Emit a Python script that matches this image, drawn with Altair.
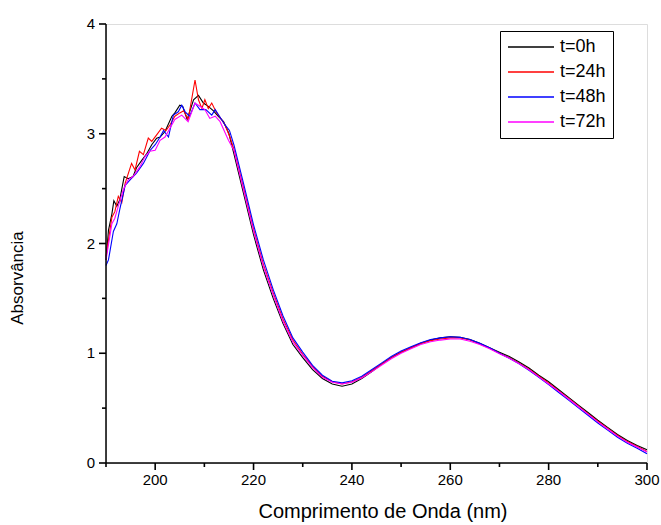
import altair as alt
import pandas as pd

series = ["t=0h", "t=24h", "t=48h", "t=72h"]
colors = ["#000000", "#ff0000", "#0000ff", "#ff00ff"]

# noisy short-wavelength part (read per series)
wl_0h_a = [190, 190.5, 191.2, 191.6, 192.2, 192.8, 193.7, 194.5, 195.5, 196.2, 197.3, 198.3, 199.3, 200.3,
           201, 202, 203.4, 204, 205, 205.6, 206.5, 207.8, 208.8, 209.8, 210.8, 211.8, 212.8, 213.9, 215]
ab_0h_a = [1.85, 2.12, 2.27, 2.39, 2.34, 2.40, 2.61, 2.59, 2.61, 2.69, 2.76, 2.82, 2.90, 2.96,
           2.97, 3.02, 3.16, 3.19, 3.26, 3.25, 3.13, 3.31, 3.35, 3.28, 3.25, 3.21, 3.16, 3.11, 3.00]

wl_24h_a = [190, 191.2, 191.8, 192.5, 193.2, 193.9, 195.2, 195.9, 196.8, 197.6, 198.6, 199.3, 200.3, 201.3,
            202.2, 203, 204, 205, 205.8, 206.7, 208.1, 208.8, 209.5, 210.1, 210.8, 211.5, 212.5, 213.5, 214.2, 215.2]
ab_24h_a = [1.88, 2.24, 2.29, 2.43, 2.37, 2.55, 2.73, 2.67, 2.84, 2.81, 2.96, 2.93, 2.99, 3.05,
            3.03, 3.08, 3.16, 3.19, 3.21, 3.13, 3.49, 3.31, 3.23, 3.31, 3.23, 3.28, 3.19, 3.13, 3.08, 2.97]

wl_48h_a = [190, 190.5, 191.5, 192.2, 192.8, 193.9, 194.9, 196.2, 197.6, 199, 200, 201, 201.7, 202.7,
            203.7, 204.7, 205.4, 206.1, 207, 208.1, 209.1, 210.3, 211.5, 212.2, 213.2, 214.2, 215.1]
ab_48h_a = [1.80, 1.85, 2.11, 2.18, 2.31, 2.53, 2.58, 2.64, 2.73, 2.85, 2.90, 2.97, 3.03, 2.97,
            3.17, 3.20, 3.26, 3.20, 3.16, 3.28, 3.22, 3.22, 3.17, 3.22, 3.15, 3.08, 3.03]

wl_72h_a = [190, 191.2, 191.8, 192.5, 193.5, 194.5, 195.5, 196.9, 197.9, 198.9, 200, 201, 202, 203,
            204, 205.4, 206.7, 208.1, 209.1, 210.1, 211.1, 212.2, 213.2, 214.9]
ab_72h_a = [1.85, 2.18, 2.23, 2.34, 2.49, 2.58, 2.61, 2.70, 2.79, 2.84, 2.85, 2.94, 2.97, 3.05,
            3.13, 3.17, 3.11, 3.28, 3.25, 3.22, 3.14, 3.16, 3.11, 2.94]

# smooth long-wavelength part
wl_b = [216, 218, 220, 222, 224, 226, 228, 230, 232, 234, 236, 238, 240, 242, 244, 246, 248, 250,
        252, 254, 256, 258, 260, 262, 264, 266, 268, 270, 272, 274, 276, 278, 280, 282, 284, 286,
        288, 290, 292, 294, 296, 298, 300]
ab_0h_b = [2.82, 2.45, 2.08, 1.76, 1.50, 1.27, 1.08, 0.96, 0.85, 0.77, 0.72, 0.70, 0.72, 0.77, 0.83, 0.90, 0.96, 1.01,
           1.05, 1.09, 1.12, 1.14, 1.15, 1.145, 1.125, 1.09, 1.05, 1.01, 0.97, 0.92, 0.865, 0.80, 0.74, 0.67, 0.60, 0.53,
           0.46, 0.39, 0.325, 0.26, 0.205, 0.16, 0.12]
ab_24h_b = [2.86, 2.50, 2.13, 1.81, 1.55, 1.31, 1.12, 0.99, 0.88, 0.79, 0.74, 0.72, 0.74, 0.78, 0.84, 0.90, 0.96, 1.01,
            1.05, 1.09, 1.115, 1.13, 1.14, 1.14, 1.12, 1.085, 1.045, 1.00, 0.96, 0.91, 0.855, 0.79, 0.73, 0.66, 0.59, 0.52,
            0.45, 0.38, 0.315, 0.25, 0.195, 0.15, 0.105]
ab_48h_b = [2.90, 2.54, 2.17, 1.85, 1.58, 1.34, 1.14, 1.01, 0.89, 0.80, 0.745, 0.73, 0.75, 0.79, 0.85, 0.91, 0.97, 1.02,
            1.06, 1.095, 1.125, 1.14, 1.15, 1.145, 1.125, 1.09, 1.05, 1.00, 0.955, 0.905, 0.845, 0.78, 0.715, 0.645, 0.575, 0.505,
            0.435, 0.365, 0.30, 0.235, 0.18, 0.135, 0.085]
ab_72h_b = [2.85, 2.48, 2.11, 1.79, 1.53, 1.29, 1.10, 0.98, 0.87, 0.78, 0.735, 0.72, 0.735, 0.775, 0.83, 0.89, 0.95, 1.00,
            1.04, 1.08, 1.105, 1.12, 1.13, 1.13, 1.11, 1.08, 1.04, 0.995, 0.955, 0.905, 0.85, 0.785, 0.72, 0.655, 0.585, 0.515,
            0.445, 0.375, 0.31, 0.245, 0.19, 0.145, 0.10]

x_major = [200, 220, 240, 260, 280, 300]
x_minor = [190, 210, 230, 250, 270, 290]
y_major = [0, 1, 2, 3, 4]
y_minor = [0.5, 1.5, 2.5, 3.5]
x_range = [190, 300]
y_range = [0, 4]
x_title = "Comprimento de Onda (nm)"
y_title = "Absorvância"

parts = [
    (series[0], wl_0h_a + wl_b, ab_0h_a + ab_0h_b),
    (series[1], wl_24h_a + wl_b, ab_24h_a + ab_24h_b),
    (series[2], wl_48h_a + wl_b, ab_48h_a + ab_48h_b),
    (series[3], wl_72h_a + wl_b, ab_72h_a + ab_72h_b),
]
rows = []
for i, (name, wls, abs_) in enumerate(parts):
    for w, a in zip(wls, abs_):
        rows.append({"wl": w, "ab": a, "serie": name, "ord": i})
df = pd.DataFrame(rows)

W, H = 541, 439
FONT = "Liberation Sans"
INK = "#000000"
xscale = alt.Scale(domain=x_range, nice=False, zero=False)
yscale = alt.Scale(domain=y_range, nice=False, zero=False)

lines = alt.Chart(df).mark_line(strokeWidth=1.1).encode(
    x=alt.X("wl:Q", scale=xscale, axis=None),
    y=alt.Y("ab:Q", scale=yscale, axis=None),
    color=alt.Color("serie:N", scale=alt.Scale(domain=series, range=colors),
                    legend=alt.Legend(orient="none", legendX=394, legendY=7, title="",
                                      symbolType="M-1,0L4.75,0", symbolSize=256, symbolStrokeWidth=1.3,
                                      labelFontSize=18, labelFont=FONT, labelColor="black", labelOffset=35,
                                      rowPadding=7, padding=7, strokeColor="black", fillColor="white",
                                      cornerRadius=0, titlePadding=0)),
    order="ord:Q",
)

# axis lines
x_dom = alt.Chart(pd.DataFrame({"a": [x_range[0]], "b": [x_range[1]]})).mark_rule(
    color=INK, strokeWidth=1.5).encode(
    x=alt.X("a:Q", scale=xscale, axis=None), x2="b:Q", y=alt.value(H))
y_dom = alt.Chart(pd.DataFrame({"a": [y_range[0]], "b": [y_range[1]]})).mark_rule(
    color=INK, strokeWidth=1.5).encode(
    y=alt.Y("a:Q", scale=yscale, axis=None), y2="b:Q", x=alt.value(0))


def xticks(vals, length):
    d = pd.DataFrame({"wl": vals})
    return alt.Chart(d).mark_tick(color=INK, orient="vertical", thickness=1.6, size=length,
                                  opacity=1, filled=True).encode(
        x=alt.X("wl:Q", scale=xscale, axis=None),
        y=alt.value(H + length / 2))


def yticks(vals, length):
    d = pd.DataFrame({"ab": vals})
    return alt.Chart(d).mark_tick(color=INK, orient="horizontal", thickness=1.6, size=length,
                                  opacity=1, filled=True).encode(
        y=alt.Y("ab:Q", scale=yscale, axis=None),
        x=alt.value(-length / 2))


x_labels = alt.Chart(pd.DataFrame({"wl": x_major, "lab": [str(v) for v in x_major]})).mark_text(
    font=FONT, fontSize=15, color=INK, align="center", baseline="top").encode(
    x=alt.X("wl:Q", scale=xscale, axis=None), y=alt.value(H + 10), text="lab:N")

y_labels = alt.Chart(pd.DataFrame({"ab": y_major, "lab": [str(v) for v in y_major]})).mark_text(
    font=FONT, fontSize=15, color=INK, align="right", baseline="middle").encode(
    y=alt.Y("ab:Q", scale=yscale, axis=None), x=alt.value(-11), text="lab:N")

x_tit = alt.Chart(pd.DataFrame({"t": [x_title]})).mark_text(
    font=FONT, fontSize=20, color=INK, align="center", baseline="middle").encode(
    x=alt.value(277), y=alt.value(H + 49), text="t:N")

y_tit = alt.Chart(pd.DataFrame({"t": [y_title]})).mark_text(
    font=FONT, fontSize=17, color=INK, align="center", baseline="middle", angle=270).encode(
    x=alt.value(-88), y=alt.value(254), text="t:N")

chart = alt.layer(
    lines, x_dom, y_dom,
    xticks(x_major, 7), xticks(x_minor, 4), yticks(y_major, 7), yticks(y_minor, 4),
    x_labels, y_labels, x_tit, y_tit
).properties(
    width=W, height=H,
    padding={"left": 106, "top": 24, "right": 14, "bottom": 62},
    autosize=alt.AutoSizeParams(type="none"),
).configure_view(strokeWidth=0).configure(font=FONT)

chart.save("out.html", embed_options={"renderer": "svg", "actions": False})
